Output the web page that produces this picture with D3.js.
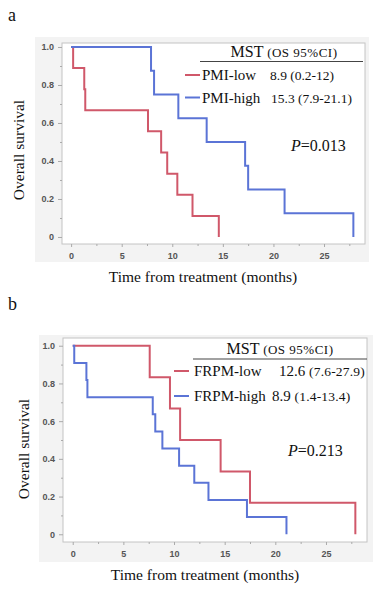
<!DOCTYPE html>
<html>
<head>
<meta charset="utf-8">
<script src="https://cdn.jsdelivr.net/npm/d3@7"></script>
<style>
  body { margin: 0; background: #fff; }
  svg { display: block; }
  .serif { font-family: "Liberation Serif", "DejaVu Serif", serif; fill: #111; }
  .tick text { font-family: "Liberation Sans", Arial, sans-serif; font-size: 9px; fill: #555; font-weight: bold; }
</style>
</head>
<body>
<svg id="chart" width="384" height="596"></svg>
<script>
// Kaplan-Meier steps, panel a (PMI)
const pmiLowTime  = [0, 0.2, 1.3, 1.4, 7.6, 8.9, 9.5, 10.5, 12.0, 14.6];
const pmiLowSurv  = [1, 0.889, 0.778, 0.667, 0.556, 0.444, 0.333, 0.222, 0.111, 0];
const pmiHighTime = [0, 7.9, 8.2, 10.6, 13.4, 17.2, 17.5, 21.1, 27.9];
const pmiHighSurv = [1, 0.875, 0.75, 0.625, 0.5, 0.375, 0.25, 0.125, 0];

// panel b (FRPM)
const frpmLowTime  = [0, 7.6, 9.6, 10.6, 14.6, 17.5, 27.9];
const frpmLowSurv  = [1, 0.833, 0.667, 0.5, 0.333, 0.167, 0];
const frpmHighTime = [0, 0.15, 1.35, 1.45, 7.9, 8.15, 8.85, 10.5, 12.0, 13.4, 17.2, 21.1];
const frpmHighSurv = [1, 0.909, 0.818, 0.727, 0.636, 0.545, 0.455, 0.364, 0.273, 0.182, 0.091, 0];

const xTicks = [0, 5, 10, 15, 20, 25];
const yTicks = [0, 0.2, 0.4, 0.6, 0.8, 1.0];
const yTickLabels = ["0", "0.2", "0.4", "0.6", "0.8", "1.0"];

const RED = "#d0586a", BLUE = "#5b74d6";
const svg = d3.select("#chart");

function drawPanel(p) {
    const g = svg.append("g");
    // light gray backdrop
    g.append("rect").attr("x", p.bg[0]).attr("y", p.bg[1])
        .attr("width", p.bg[2] - p.bg[0]).attr("height", p.bg[3] - p.bg[1])
        .attr("fill", "#f3f3f3");
    g.append("rect").attr("x", p.frame[0]).attr("y", p.frame[1])
        .attr("width", p.frame[2] - p.frame[0]).attr("height", p.frame[3] - p.frame[1])
        .attr("fill", "#fff").attr("stroke", "#c4c4c4").attr("stroke-width", 1);

    const x = d3.scaleLinear().domain(p.xDom).range([p.frame[0], p.frame[2]]);
    const y = d3.scaleLinear().domain(p.yDom).range([p.frame[3], p.frame[1]]);

    // minor ticks
    const xMinor = xTicks.map(d => d + 2.5);
    const yMinor = yTicks.slice(0, 5).map(d => d + 0.1);
    g.append("g").attr("transform", `translate(0,${p.frame[3]})`)
        .call(d3.axisBottom(x).tickValues(xMinor).tickSize(2).tickFormat(""))
        .call(a => a.select(".domain").remove())
        .selectAll("line").attr("stroke", "#aaa");
    g.append("g").attr("transform", `translate(${p.frame[0]},0)`)
        .call(d3.axisLeft(y).tickValues(yMinor).tickSize(2).tickFormat(""))
        .call(a => a.select(".domain").remove())
        .selectAll("line").attr("stroke", "#aaa");

    // major ticks
    g.append("g").attr("transform", `translate(0,${p.frame[3]})`)
        .call(d3.axisBottom(x).tickValues(xTicks).tickSize(3).tickPadding(6).tickFormat(d3.format("d")))
        .call(a => a.select(".domain").remove())
        .selectAll("line").attr("stroke", "#aaa");
    g.append("g").attr("transform", `translate(${p.frame[0]},0)`)
        .call(d3.axisLeft(y).tickValues(yTicks).tickSize(4).tickPadding(4).tickFormat((d, i) => yTickLabels[i]))
        .call(a => a.select(".domain").remove())
        .selectAll("line").attr("stroke", "#aaa");

    const line = d3.line().x(d => x(d[0])).y(d => y(d[1])).curve(d3.curveStepAfter);
    p.series.forEach(s => {
        g.append("path")
            .datum(d3.zip(s.time, s.surv))
            .attr("d", line)
            .attr("fill", "none")
            .attr("stroke", s.color)
            .attr("stroke-width", 2);
    });

    // panel letter
    g.append("text").attr("class", "serif").attr("x", 8).attr("y", p.letterY)
        .attr("font-size", 18).text(p.letter);

    // axis titles
    g.append("text").attr("class", "serif")
        .attr("transform", `translate(${p.yLab[0]},${p.yLab[1]}) rotate(-90)`)
        .attr("text-anchor", "middle").attr("font-size", 15.5).text("Overall survival");
    g.append("text").attr("class", "serif")
        .attr("x", p.xLab[0]).attr("y", p.xLab[1])
        .attr("text-anchor", "middle").attr("font-size", 15.5).text("Time from treatment (months)");

    // legend header
    const hd = g.append("text").attr("class", "serif")
        .attr("x", p.head[0]).attr("y", p.head[1]).attr("text-anchor", "middle");
    hd.append("tspan").attr("font-size", 16).text("MST ");
    hd.append("tspan").attr("font-size", 13).attr("letter-spacing", 0.5).text("(OS 95%CI)");
    g.append("line").attr("x1", p.rule[0]).attr("x2", p.rule[1])
        .attr("y1", p.rule[2]).attr("y2", p.rule[2])
        .attr("stroke", "#444").attr("stroke-width", 1.2);

    p.series.forEach(s => {
        g.append("line").attr("x1", p.key[0]).attr("x2", p.key[1])
            .attr("y1", s.ky).attr("y2", s.ky)
            .attr("stroke", s.color).attr("stroke-width", 2);
        g.append("text").attr("class", "serif").attr("x", p.nameX).attr("y", s.ky + 5)
            .attr("font-size", 15).text(s.name);
        const t = g.append("text").attr("class", "serif").attr("x", s.valX).attr("y", s.ky + 5);
        t.append("tspan").attr("font-size", s.bigVal ? 15 : 13.5).text(s.mst + " ");
        t.append("tspan").attr("font-size", 13.5).attr("letter-spacing", s.bigVal ? 0.2 : 0).text(s.ci);
    });

    const pv = g.append("text").attr("class", "serif").attr("x", p.pPos[0]).attr("y", p.pPos[1])
        .attr("font-size", 16);
    pv.append("tspan").attr("font-style", "italic").text("P");
    pv.append("tspan").text("=" + p.pval);
}

drawPanel({
    letter: "a", letterY: 21,
    bg: [35, 37, 369, 262], frame: [62, 43, 365, 244],
    xDom: [-0.9, 29.05], yDom: [-0.037, 1.021],
    yLab: [24, 150], xLab: [203, 282],
    head: [284, 57], rule: [200, 363, 61.5], key: [185, 200], nameX: 202,
    pPos: [291, 151], pval: "0.013",
    series: [
        {name: "PMI-low", mst: "8.9", ci: "(0.2-12)", time: pmiLowTime, surv: pmiLowSurv, color: RED, ky: 75, valX: 270},
        {name: "PMI-high", mst: "15.3", ci: "(7.9-21.1)", time: pmiHighTime, surv: pmiHighSurv, color: BLUE, ky: 97.5, valX: 271}
    ]
});

drawPanel({
    letter: "b", letterY: 310,
    bg: [39, 335, 373, 562], frame: [63, 338, 367, 542],
    xDom: [-0.96, 29.05], yDom: [-0.041, 1.041],
    yLab: [29, 449], xLab: [205, 580],
    head: [280, 354], rule: [193, 367, 359], key: [174, 189], nameX: 194,
    pPos: [288, 456], pval: "0.213",
    series: [
        {name: "FRPM-low", mst: "12.6", ci: "(7.6-27.9)", time: frpmLowTime, surv: frpmLowSurv, color: RED, ky: 371, valX: 279, bigVal: true},
        {name: "FRPM-high", mst: "8.9", ci: "(1.4-13.4)", time: frpmHighTime, surv: frpmHighSurv, color: BLUE, ky: 396, valX: 272, bigVal: true}
    ]
});
</script>
</body>
</html>
